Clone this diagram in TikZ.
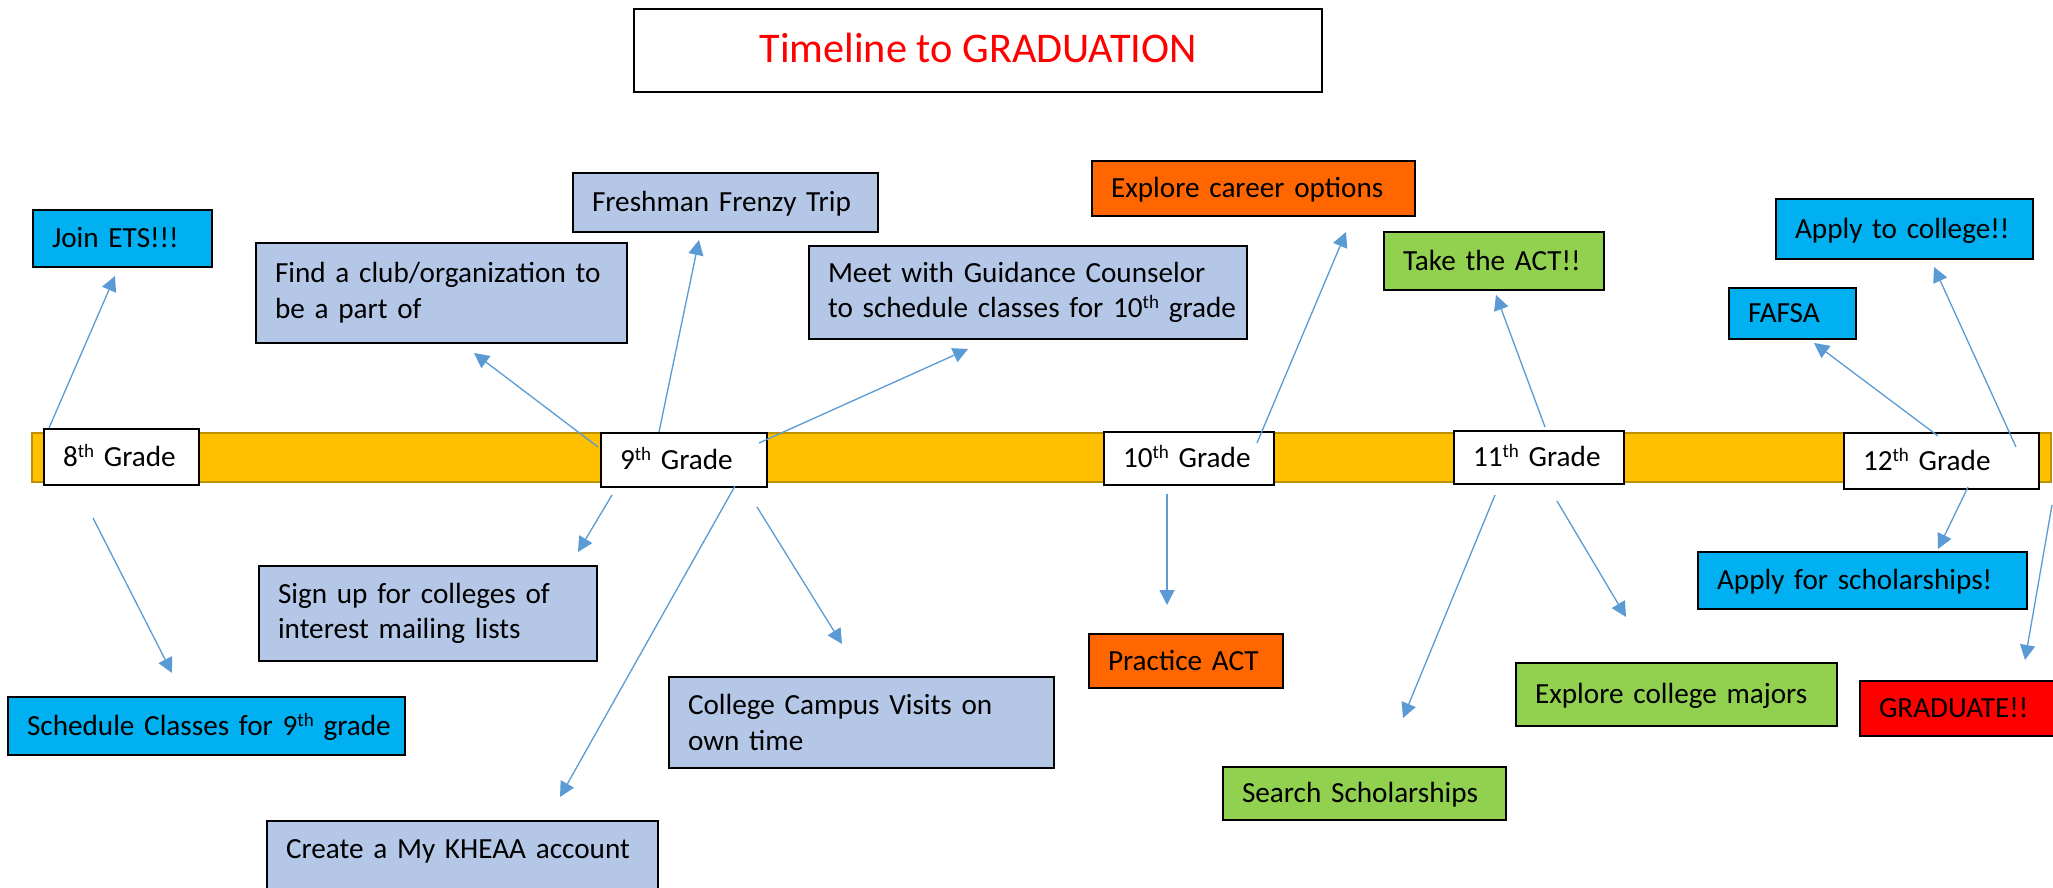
\documentclass[tikz,border=0pt]{standalone}
\usepackage{fontspec}
\setmainfont{Carlito}
\usetikzlibrary{arrows.meta}
\definecolor{cyanbx}{HTML}{00B0F0}
\definecolor{lblue}{HTML}{B4C7E7}
\definecolor{orng}{HTML}{FF6600}
\definecolor{grn}{HTML}{92D050}
\definecolor{redbx}{HTML}{FF0000}
\definecolor{gold}{HTML}{FFC000}
\definecolor{goldedge}{HTML}{BF9000}
\definecolor{arrowblue}{HTML}{5B9BD5}
\newcommand\ordsup[1]{\raisebox{4.6pt}{\fontsize{9.5}{10}\selectfont #1}}
\tikzset{
  bx/.style={draw=black, line width=1pt, anchor=north west, inner xsep=9.5pt,
    inner ysep=0pt, align=left, font=\fontsize{14.6}{17.8}\selectfont},
  one/.style={text height=9.4pt, text depth=0pt},
  grade/.style={bx, one, fill=white},
  arr/.style={draw=arrowblue, line width=0.65pt, -{Triangle[length=7.5pt,width=7.5pt]}},
}
\begin{document}
\begin{tikzpicture}[x=0.5pt, y=-0.5pt]
\useasboundingbox (0,0) rectangle (2053,888);
\clip (0,0) rectangle (2053,888);
\fill[white] (0,0) rectangle (2053,888);

% title
\node[draw=black, line width=1pt, anchor=north west, minimum width=344pt,
  minimum height=41.5pt, inner sep=0pt, text=redbx,
  font=\fontsize{21.15}{25.8}\selectfont, text height=13.6pt, text depth=1.5pt]
  (title) at (633,8) {Timeline to GRADUATION};

% timeline bar
\node[draw=goldedge, fill=gold, line width=0.75pt, anchor=north west,
  minimum width=1009.5pt, minimum height=24.5pt, inner sep=0pt] (bar) at (31,432) {};

% grade boxes
\node[grade, minimum width=77.5pt, minimum height=28pt, text width=58.5pt] (g8) at (43,428) {\mbox{8\ordsup{th} Grade}};
\node[grade, minimum width=83pt, minimum height=27pt, text width=64pt] (g9) at (600,432) {\mbox{9\ordsup{th} Grade}};
\node[grade, minimum width=85pt, minimum height=26.5pt, text width=66pt] (g10) at (1103,431) {\mbox{10\ordsup{th} Grade}};
\node[grade, minimum width=85pt, minimum height=26.5pt, text width=66pt] (g11) at (1453,430) {\mbox{11\ordsup{th} Grade}};
\node[grade, minimum width=97.5pt, minimum height=28pt, text width=78.5pt] (g12) at (1843,432) {\mbox{12\ordsup{th} Grade}};

% upper boxes
\node[bx, one, fill=cyanbx, minimum width=89.5pt, minimum height=28.5pt, text width=70.5pt] (join) at (32,209) {\mbox{Join ETS!!!}};
\node[bx, fill=lblue, minimum width=185.5pt, minimum height=50pt, text width=166.5pt] (club) at (255,242) {\mbox{Find a club/organization to}\\\mbox{be a part of}};
\node[bx, one, fill=lblue, minimum width=152.5pt, minimum height=29.5pt, text width=133.5pt] (fresh) at (572,172) {\mbox{Freshman Frenzy Trip}};
\node[bx, fill=lblue, minimum width=219pt, minimum height=46.5pt, text width=200pt] (meet) at (808,245) {\mbox{Meet with Guidance Counselor}\\\mbox{to schedule classes for 10\ordsup{th} grade}};
\node[bx, one, fill=orng, minimum width=161.5pt, minimum height=27.5pt, text width=142.5pt] (career) at (1091,160) {\mbox{Explore career options}};
\node[bx, one, fill=grn, minimum width=110pt, minimum height=29pt, text width=91pt] (takeact) at (1383,231) {\mbox{Take the ACT!!}};
\node[bx, one, fill=cyanbx, minimum width=128.5pt, minimum height=30pt, text width=109.5pt] (applycol) at (1775,198) {\mbox{Apply to college!!}};
\node[bx, one, fill=cyanbx, minimum width=63.5pt, minimum height=25.5pt, text width=44.5pt] (fafsa) at (1728,287) {\mbox{FAFSA}};

% lower boxes
\node[bx, one, fill=cyanbx, minimum width=198.5pt, minimum height=29pt, text width=179.5pt] (sched) at (7,696) {\mbox{Schedule Classes for 9\ordsup{th} grade}};
\node[bx, fill=lblue, minimum width=169pt, minimum height=47.5pt, text width=150pt] (signup) at (258,565) {\mbox{Sign up for colleges of}\\\mbox{interest mailing lists}};
\node[bx, fill=lblue, minimum width=192.5pt, minimum height=45.5pt, text width=173.5pt] (campus) at (668,676) {\mbox{College Campus Visits on}\\\mbox{own time}};
\node[bx, fill=lblue, minimum width=195.5pt, minimum height=40pt, text width=176.5pt, text height=18.5pt, text depth=21.5pt] (kheaa) at (266,820) {\mbox{Create a My KHEAA account}};
\node[bx, one, fill=orng, minimum width=97pt, minimum height=27pt, text width=78pt] (practice) at (1088,633) {\mbox{Practice ACT}};
\node[bx, one, fill=grn, minimum width=141.5pt, minimum height=26.5pt, text width=122.5pt] (search) at (1222,766) {\mbox{Search Scholarships}};
\node[bx, one, fill=grn, minimum width=160.5pt, minimum height=31.5pt, text width=141.5pt] (majors) at (1515,662) {\mbox{Explore college majors}};
\node[bx, one, fill=cyanbx, minimum width=164.5pt, minimum height=28.5pt, text width=145.5pt] (applysch) at (1697,551) {\mbox{Apply for scholarships!}};
\node[bx, one, fill=redbx, minimum width=120pt, minimum height=27.5pt, text width=101pt] (grad) at (1859,680) {\mbox{GRADUATE!!}};

% connector end points
\coordinate (s1) at (49,428);    \coordinate (e1) at (115,276);
\coordinate (s2) at (93,518);    \coordinate (e2) at (172,673);
\coordinate (s3) at (598,447);   \coordinate (e3) at (474,353);
\coordinate (s4) at (659,432);   \coordinate (e4) at (699,240);
\coordinate (s5) at (759,443);   \coordinate (e5) at (968,349);
\coordinate (s6) at (612,495);   \coordinate (e6) at (578,552);
\coordinate (s7) at (735,486);   \coordinate (e7) at (560,797);
\coordinate (s8) at (757,507);   \coordinate (e8) at (842,644);
\coordinate (s9) at (1257,443);  \coordinate (e9) at (1346,232);
\coordinate (s10) at (1167,494); \coordinate (e10) at (1167,605);
\coordinate (s11) at (1545,427); \coordinate (e11) at (1496,295);
\coordinate (s12) at (1495,495); \coordinate (e12) at (1403,718);
\coordinate (s13) at (1557,501); \coordinate (e13) at (1626,617);
\coordinate (s14) at (1938,436); \coordinate (e14) at (1814,343);
\coordinate (s15) at (2016,447); \coordinate (e15) at (1934,267);
\coordinate (s16) at (1968,487); \coordinate (e16) at (1938,549);
\coordinate (s17) at (2052,505); \coordinate (e17) at (2025,660);

\foreach \i in {1,...,17} {\draw[arr] (s\i) -- (e\i);}
\end{tikzpicture}
\end{document}
